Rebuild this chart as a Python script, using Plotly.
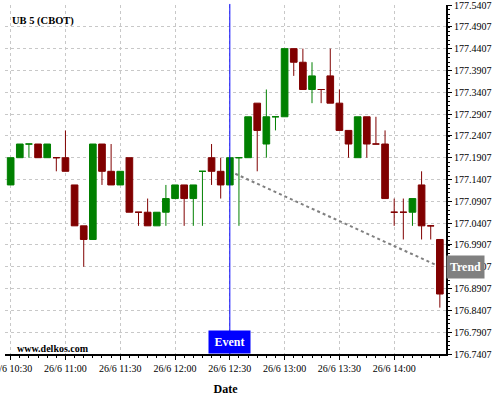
import plotly.graph_objects as go
import pandas as pd

# ---- data ----
times = pd.date_range("2024-06-26 10:30", "2024-06-26 14:25", freq="5min")

opens = [177.1282, 177.1907, 177.2220, 177.2220, 177.1907, 177.1907, 177.1907, 177.1282, 177.0345, 177.0032,
         177.2220, 177.1595, 177.1282, 177.1907, 177.0657, 177.0657, 177.0345, 177.0657, 177.0970, 177.1282,
         177.0970, 177.1595, 177.1907, 177.1595, 177.1282, 177.1907, 177.1907, 177.3157, 177.2220, 177.2845,
         177.2845, 177.4407, 177.4095, 177.3470, 177.3470, 177.3782, 177.3157, 177.2532, 177.1907, 177.2845,
         177.2220, 177.2220, 177.0657, 177.0657, 177.0657, 177.1282, 177.0345, 177.0032]
highs = [177.1907, 177.2220, 177.2220, 177.2220, 177.2220, 177.1907, 177.2532, 177.1282, 177.0345, 177.2220,
         177.2220, 177.2220, 177.1595, 177.1907, 177.0657, 177.0970, 177.0657, 177.1282, 177.1282, 177.1282,
         177.1282, 177.1595, 177.2220, 177.1907, 177.1907, 177.1907, 177.2845, 177.3157, 177.3470, 177.2845,
         177.4407, 177.4407, 177.4407, 177.4095, 177.3470, 177.4407, 177.3470, 177.2532, 177.2845, 177.2845,
         177.2845, 177.2532, 177.0970, 177.0970, 177.0970, 177.1595, 177.0345, 177.0032]
lows = [177.1282, 177.1907, 177.1907, 177.1907, 177.1907, 177.1595, 177.1595, 177.0345, 176.9407, 177.0032,
        177.1282, 177.1282, 177.1282, 177.0657, 177.0345, 177.0345, 177.0345, 177.0345, 177.0970, 177.0345,
        177.0345, 177.0345, 177.1282, 177.0970, 177.1282, 177.0345, 177.1907, 177.1595, 177.1907, 177.2532,
        177.2845, 177.3782, 177.3470, 177.3157, 177.3157, 177.3157, 177.2532, 177.1907, 177.1907, 177.1907,
        177.2220, 177.0970, 177.0345, 177.0032, 177.0345, 177.0032, 177.0032, 176.8470]
closes = [177.1907, 177.2220, 177.2220, 177.1907, 177.2220, 177.1907, 177.1595, 177.0345, 177.0032, 177.2220,
          177.1595, 177.1282, 177.1595, 177.0657, 177.0657, 177.0345, 177.0657, 177.0970, 177.1282, 177.0970,
          177.1282, 177.1595, 177.1595, 177.1282, 177.1907, 177.1907, 177.2845, 177.2532, 177.2845, 177.2845,
          177.4407, 177.4095, 177.3470, 177.3782, 177.3470, 177.3157, 177.2532, 177.2220, 177.2845, 177.2220,
          177.2220, 177.0970, 177.0657, 177.0657, 177.0970, 177.0345, 177.0345, 176.8782]

trend_times = ["2024-06-26 12:30", "2024-06-26 14:25"]
trend_values = [177.1595, 176.9407]
event_time = "2024-06-26 12:30"

title_text = "UB 5 (CBOT)"
watermark = "www.delkos.com"
x_title = "Date"
y_min, y_max, y_step = 176.7407, 177.5407, 0.05
x_range = ["2024-06-26 10:26:54", "2024-06-26 14:28:22"]

GREEN = "#008000"
RED = "#800000"
FONT = "Liberation Serif"

fig = go.Figure()
fig.add_trace(go.Candlestick(
    x=times, open=opens, high=highs, low=lows, close=closes,
    increasing=dict(line=dict(color=GREEN, width=1), fillcolor=GREEN),
    decreasing=dict(line=dict(color=RED, width=1), fillcolor=RED),
    whiskerwidth=0, showlegend=False, hoverinfo="skip",
))

# trend line (beneath the candles)
fig.add_shape(type="line", xref="x", yref="y",
              x0=trend_times[0], y0=trend_values[0], x1=trend_times[1], y1=trend_values[1],
              line=dict(color="#808080", width=2, dash="dot"), layer="between")

# event line
fig.add_shape(type="line", xref="x", yref="paper",
              x0=event_time, x1=event_time, y0=0, y1=1.003,
              line=dict(color="#0000FF", width=1), layer="above")

fig.add_annotation(text="<b>Event</b>", xref="x", yref="paper", x=event_time, y=0,
                   xanchor="center", yanchor="bottom", showarrow=False,
                   bgcolor="#0000FF", width=39, height=20, borderpad=1,
                   font=dict(family=FONT, size=12, color="white"))
fig.add_annotation(text="<b>Trend</b>", xref="paper", yref="y", x=1, y=trend_values[1],
                   xanchor="left", yanchor="middle", showarrow=False,
                   bgcolor="#808080", width=35, height=20, borderpad=1,
                   font=dict(family=FONT, size=12, color="white"))
fig.add_annotation(text="<b>%s</b>" % title_text, xref="paper", yref="paper", x=0.0113, y=0.954,
                   xanchor="left", yanchor="middle", showarrow=False,
                   font=dict(family=FONT, size=10.5, color="black"))
fig.add_annotation(text="<b>%s</b>" % watermark, xref="paper", yref="paper", x=0.0227, y=0.017,
                   xanchor="left", yanchor="middle", showarrow=False,
                   font=dict(family=FONT, size=10, color="black"))

grid = dict(showgrid=True, gridcolor="#c8c8c8", gridwidth=1, griddash="3px,3px")

fig.update_layout(
    width=500, height=400,
    margin=dict(l=5, r=54, t=5, b=46, autoexpand=False),
    paper_bgcolor="white", plot_bgcolor="white",
    boxgap=0.27, boxgroupgap=0,
    font=dict(family=FONT, size=10, color="black"),
    xaxis=dict(
        type="date", range=x_range, rangeslider=dict(visible=False), automargin=False,
        tickformat="%-d/%-m %H:%M", tick0="2024-06-26 10:30", dtick=1800000,
        ticks="outside", ticklen=4, tickcolor="black", ticklabeloverflow="allow",
        showline=True, linecolor="black", linewidth=1.5,
        minor=dict(dtick=300000, ticks="outside", ticklen=2, tickcolor="black", showgrid=False),
        title=dict(text="<b>%s</b>" % x_title, font=dict(family=FONT, size=12), standoff=12),
        tickfont=dict(family=FONT, size=10), zeroline=False, **grid,
    ),
    yaxis=dict(
        side="right", range=[y_min - 1e-6, y_max + 1e-6], automargin=False,
        tickmode="linear", tick0=y_min, dtick=y_step, tickformat=".4f",
        ticks="outside", ticklen=4, tickcolor="black", ticklabeloverflow="allow",
        showline=True, linecolor="black", linewidth=2,
        minor=dict(dtick=0.01, ticks="outside", ticklen=2, tickcolor="black", showgrid=False),
        tickfont=dict(family=FONT, size=10), zeroline=False, **grid,
    ),
)

fig.write_html("out.html", config={"displayModeBar": False},
               post_script="document.body.style.margin='0';")
